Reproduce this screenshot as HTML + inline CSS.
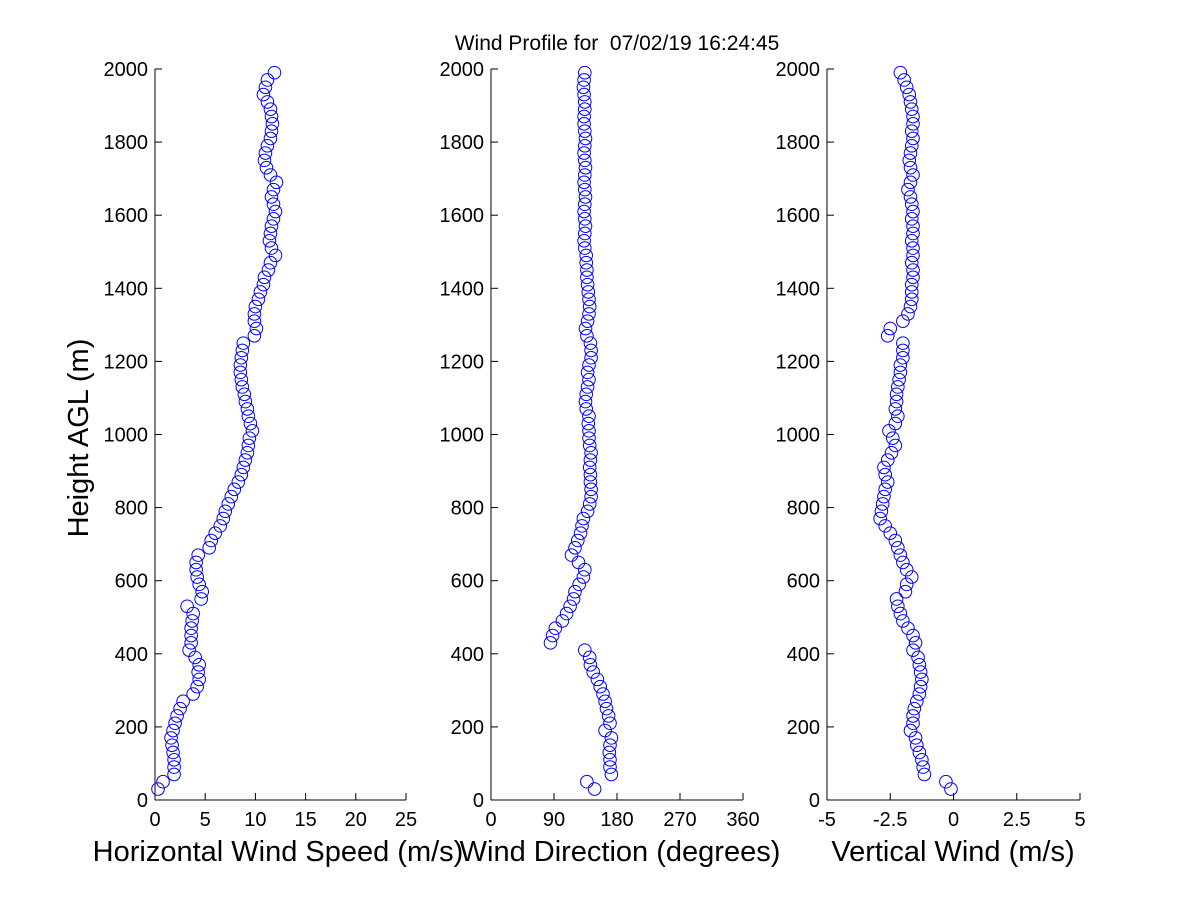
<!DOCTYPE html>
<html><head><meta charset="utf-8"><style>
body{margin:0;background:#fff;}
svg{display:block;font-family:"Liberation Sans",Arial,sans-serif;}
</style></head><body>
<svg id="c" width="1200" height="900">
<text x="617" y="50" font-size="21" text-anchor="middle" xml:space="preserve">Wind Profile for  07/02/19 16:24:45</text>
<text transform="translate(88,438) rotate(-90)" font-size="29" text-anchor="middle">Height AGL (m)</text>
</svg>
<script>
const heights=[30,50,70,90,110,130,150,170,190,210,230,250,270,290,310,330,350,370,390,410,430,450,470,490,510,530,550,570,590,610,630,650,670,690,710,730,750,770,790,810,830,850,870,890,910,930,950,970,990,1010,1030,1050,1070,1090,1110,1130,1150,1170,1190,1210,1230,1250,1270,1290,1310,1330,1350,1370,1390,1410,1430,1450,1470,1490,1510,1530,1550,1570,1590,1610,1630,1650,1670,1690,1710,1730,1750,1770,1790,1810,1830,1850,1870,1890,1910,1930,1950,1970,1990];
const speed=[0.3,0.8,1.9,1.9,1.9,1.8,1.7,1.6,1.8,2.0,2.2,2.5,2.8,3.8,4.2,4.4,4.3,4.4,4.0,3.4,3.6,3.6,3.6,3.7,3.8,3.2,4.6,4.7,4.4,4.2,4.1,4.1,4.3,5.4,5.6,6.0,6.5,6.8,7.0,7.3,7.6,7.9,8.3,8.6,8.8,9.0,9.2,9.3,9.4,9.7,9.5,9.3,9.2,9.0,8.9,8.7,8.6,8.5,8.5,8.6,8.7,8.8,9.9,10.1,9.9,9.9,10.0,10.3,10.5,10.8,10.9,11.3,11.5,12.0,11.6,11.4,11.5,11.6,11.8,12.0,11.8,11.6,11.8,12.1,11.5,11.1,10.9,11.0,11.2,11.5,11.6,11.7,11.6,11.5,11.2,10.8,11.0,11.2,11.9];
const direction=[148,137,172,170,170,169,170,172,163,170,168,165,163,160,156,152,146,142,141,134,85,88,92,102,108,113,118,120,126,132,134,125,115,120,124,128,130,132,138,141,143,143,142,142,141,142,143,141,140,140,139,140,136,135,136,138,140,138,140,143,143,142,137,135,138,140,141,140,139,138,137,137,136,136,134,133,134,135,134,133,134,135,134,133,134,135,134,133,134,135,134,133,133,134,134,133,132,133,134];
const vertical=[-0.1,-0.3,-1.15,-1.2,-1.25,-1.35,-1.45,-1.5,-1.7,-1.6,-1.6,-1.55,-1.45,-1.35,-1.3,-1.25,-1.3,-1.35,-1.4,-1.6,-1.5,-1.6,-1.8,-2.0,-2.1,-2.2,-2.25,-1.9,-1.85,-1.65,-1.85,-2.0,-2.1,-2.2,-2.3,-2.5,-2.7,-2.9,-2.85,-2.8,-2.75,-2.7,-2.6,-2.7,-2.75,-2.6,-2.45,-2.3,-2.4,-2.55,-2.3,-2.2,-2.3,-2.25,-2.25,-2.2,-2.15,-2.1,-2.1,-2.0,-2.0,-2.0,-2.6,-2.5,-2.0,-1.8,-1.7,-1.65,-1.65,-1.65,-1.6,-1.6,-1.65,-1.6,-1.6,-1.65,-1.6,-1.6,-1.65,-1.6,-1.65,-1.7,-1.8,-1.7,-1.6,-1.7,-1.75,-1.7,-1.65,-1.6,-1.65,-1.6,-1.6,-1.65,-1.7,-1.75,-1.85,-1.95,-2.1];
const yTicks=[0,200,400,600,800,1000,1200,1400,1600,1800,2000];
const speedTicks=[0,5,10,15,20,25];
const dirTicks=[0,90,180,270,360];
const vertTicks=[-5,-2.5,0,2.5,5];
const vertTickLabels=["-5","-2.5","0","2.5","5"];

const svg=document.getElementById('c');
const NS='http://www.w3.org/2000/svg';
const y0=800,y1=69;
function ys(h){return y0-(h/2000)*(y0-y1);}
function mk(tag,attrs){const e=document.createElementNS(NS,tag);for(const k in attrs)e.setAttribute(k,attrs[k]);svg.appendChild(e);return e;}

const panels=[
 {name:'speed',x0:155,x1:406,min:0,max:25,ticks:speedTicks,labels:speedTicks.map(String),vals:speed,title:'Horizontal Wind Speed (m/s)',tx:278},
 {name:'direction',x0:491,x1:743,min:0,max:360,ticks:dirTicks,labels:dirTicks.map(String),vals:direction,title:'Wind Direction (degrees)',tx:620},
 {name:'vertical',x0:827,x1:1080,min:-5,max:5,ticks:vertTicks,labels:vertTickLabels,vals:vertical,title:'Vertical Wind (m/s)',tx:953}
];
panels.forEach(p=>{
 const xs=v=>p.x0+(v-p.min)/(p.max-p.min)*(p.x1-p.x0);
 let e=mk('line',{x1:p.x0,y1:y1,x2:p.x0,y2:y0,stroke:'#000','stroke-width':1});
 
 
 e=mk('line',{x1:p.x0,y1:y0,x2:p.x1,y2:y0,stroke:'#000','stroke-width':1});
 
 
 yTicks.forEach(t=>{
  const y=ys(t);
  let l=mk('line',{x1:p.x0,y1:y,x2:p.x0+7,y2:y,stroke:'#000'});
  
  
  let tx=mk('text',{x:p.x0-7,y:y+7,'font-size':20,'text-anchor':'end'});
  tx.textContent=t;
  
  
 });
 p.ticks.forEach((t,i)=>{
  const x=xs(t);
  let l=mk('line',{x1:x,y1:y0,x2:x,y2:y0-7,stroke:'#000'});
  
  
  let tx=mk('text',{x:x,y:y0+26,'font-size':20,'text-anchor':'middle'});
  tx.textContent=p.labels[i];
  
  
 });
 let tt=mk('text',{x:p.tx,y:861,'font-size':29,'text-anchor':'middle'});
 tt.textContent=p.title;
 
 
 p.vals.forEach((v,i)=>{
  const c=mk('circle',{cx:xs(v),cy:ys(heights[i]),r:6.3,fill:'none',stroke:'#0000ff','stroke-width':1});
  
  
 });
});
</script>
</body></html>
